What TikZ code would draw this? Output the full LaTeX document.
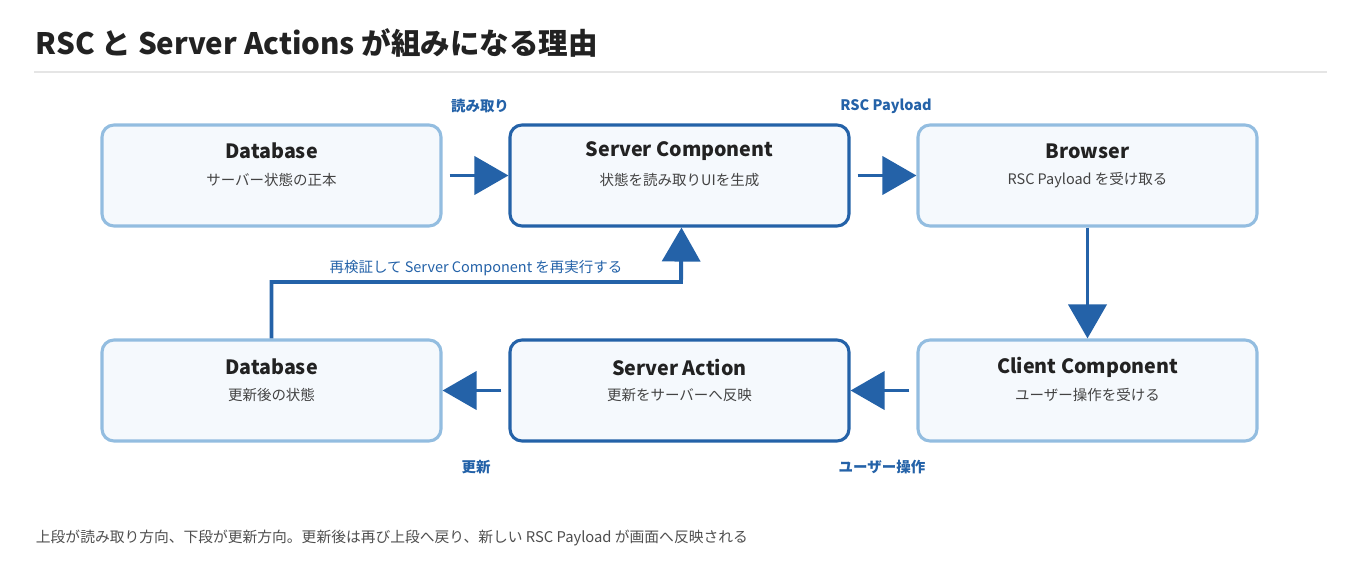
\documentclass[tikz,border=0pt]{standalone}
\usepackage{fontspec}
\setmainfont{Noto Sans CJK JP}
\usetikzlibrary{arrows.meta,positioning}
\definecolor{flowblue}{HTML}{2462A8}
\definecolor{lightedge}{HTML}{93BDE0}
\definecolor{boxfill}{HTML}{F5F9FD}
\definecolor{inktext}{HTML}{222222}
\tikzset{box node/.style={rectangle, rounded corners=12*0.025cm, fill=boxfill,
    minimum width=339*0.025cm, minimum height=101*0.025cm, line width=2.2pt}}
\tikzset{light node/.style={box node, draw=lightedge}}
\tikzset{dark node/.style={box node, draw=flowblue}}
\tikzset{box title/.style={text=inktext, font=\fontsize{14}{16}\selectfont\bfseries}}
\tikzset{box sub/.style={text=inktext!85, font=\fontsize{10.3}{12}\selectfont}}
\tikzset{flow edge/.style={draw=flowblue, line width=2.8pt,
    -{Triangle[length=0.85cm,width=0.95cm]}}}
\tikzset{comment/.style={text=flowblue, font=\fontsize{10.3}{12}\selectfont\bfseries}}

\begin{document}
\begin{tikzpicture}[x=0.025cm, y=-0.025cm]
  \useasboundingbox (0,0) rectangle (1360,567);

  \node [anchor=west, text=inktext, font=\fontsize{21}{24}\selectfont\bfseries]
        (title) at (31,43) {RSC と Server Actions が組みになる理由};
  \draw [black!10, line width=1.5pt] (34,72) -- (1327,72);

  % upper row: read direction
  \node [light node] (db0)     at ( 271.5,175.5) {};
  \node [dark node]  (sc)      at ( 679.5,175.5) {};
  \node [light node] (browser) at (1087.5,175.5) {};
  % lower row: update direction
  \node [light node] (db1)     at ( 271.5,390.5) {};
  \node [dark node]  (sa)      at ( 679.5,390.5) {};
  \node [light node] (cc)      at (1087.5,390.5) {};

  \node [box title] (db0t)     at ( 271.5,151) {Database};
  \node [box sub]   (db0s)     at ( 271.5,180) {サーバー状態の正本};
  \node [box title] (sct)      at ( 679.5,151) {Server Component};
  \node [box sub]   (scs)      at ( 679.5,180) {状態を読み取りUIを生成};
  \node [box title] (browsert) at (1087.5,151) {Browser};
  \node [box sub]   (browsers) at (1087.5,180) {RSC Payload を受け取る};
  \node [box title] (db1t)     at ( 271.5,367) {Database};
  \node [box sub]   (db1s)     at ( 271.5,395) {更新後の状態};
  \node [box title] (sat)      at ( 679.5,367) {Server Action};
  \node [box sub]   (sas)      at ( 679.5,395) {更新をサーバーへ反映};
  \node [box title] (cct)      at (1087.5,367) {Client Component};
  \node [box sub]   (ccs)      at (1087.5,395) {ユーザー操作を受ける};

  \draw [flow edge] ([xshift=7*0.025cm]db0.east) -- (sc.west);
  \draw [flow edge] ([xshift=7*0.025cm]sc.east) -- (browser.west);
  \draw [flow edge] (browser.south) -- (cc.north);
  \draw [flow edge] ([xshift=-7*0.025cm]cc.west) -- (sa.east);
  \draw [flow edge] ([xshift=-7*0.025cm]sa.west) -- (db1.east);
  \draw [flow edge] (db1.north) |- (681,282) -- ([xshift=2*0.025cm]sc.south);

  \node [comment] (l1) at ( 480,106) {読み取り};
  \node [comment] (l2) at ( 886,106) {RSC Payload};
  \node [comment] (l3) at ( 476,467) {更新};
  \node [comment] (l4) at ( 882,467) {ユーザー操作};
  \node [comment, font=\fontsize{10.3}{12}\selectfont] (l5) at (476,268)
        {再検証して Server Component を再実行する};

  \node [anchor=west, text=inktext!80, font=\fontsize{10.5}{12}\selectfont] (note) at (31,538)
        {上段が読み取り方向、下段が更新方向。更新後は再び上段へ戻り、新しい RSC Payload が画面へ反映される};
\end{tikzpicture}
\end{document}
